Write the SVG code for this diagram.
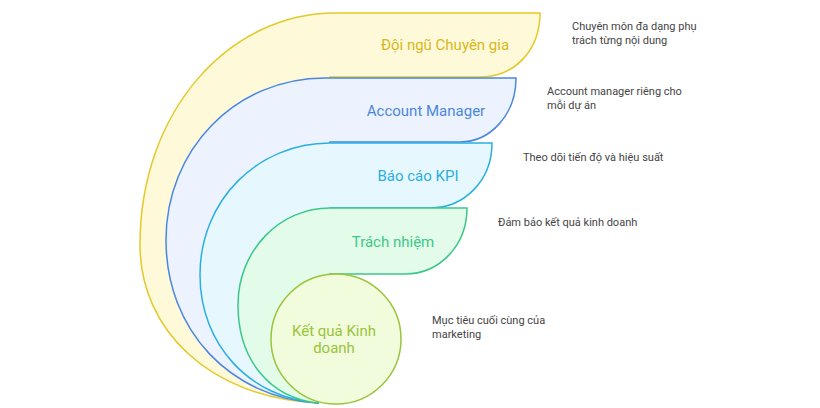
<svg xmlns="http://www.w3.org/2000/svg" width="820" height="408" viewBox="0 0 820 408">
<style>
.l{font-family:Roboto,"Liberation Sans",sans-serif;font-size:15px;text-anchor:middle}
.d{font-family:Roboto,"Liberation Sans",sans-serif;font-size:11px;fill:#444}
path,circle{stroke-width:1.5}
</style>
<rect width="820" height="408" fill="#fff"/>
<g id="n1"><path d="M318,403 C210,398 140,330 140,245 C140,110 230,13 335,13 L540,13 C540,50 515,77 480,77 L330,77 Z" fill="#fef9d8" stroke="#e3c92a"/>
<text class="l" x="445" y="50" fill="#d6b81c">Đội ngũ Chuyên gia</text></g>
<g id="n2"><path d="M318,403 C230,398 166,330 166,240 C166,150 235,78 325,78 L516,78 C516,115 490,142 460,142 L330,142 Z" fill="#edf3fe" stroke="#4a86e0"/>
<text class="l" x="426" y="116" fill="#4a86e0">Account Manager</text></g>
<g id="n3"><path d="M318,403 C250,398 200,345 200,275 C200,200 258,143 330,143 L492,143 C492,180 465,208 430,208 L330,208 Z" fill="#e6f8fe" stroke="#2aaee0"/>
<text class="l" x="418" y="181" fill="#2aaee0">Báo cáo KPI</text></g>
<g id="n4"><path d="M318,403 C270,398 238,360 238,305 C238,250 280,208 330,208 L467,208 C467,245 440,274 405,274 L330,274 Z" fill="#e3fbe9" stroke="#3cc88a"/>
<text class="l" x="393" y="247" fill="#3cc88a">Trách nhiệm</text></g>
<g id="n5"><circle cx="336" cy="339" r="65" fill="#f1fcdc" stroke="#9ac43a"/>
<text class="l" x="334" y="336" fill="#9ac43a">Kết quả Kinh</text>
<text class="l" x="334" y="353" fill="#9ac43a">doanh</text></g>
<g id="connectors"></g>
<g id="desc">
<text class="d" x="572" y="30">Chuyên môn đa dạng phụ</text>
<text class="d" x="572" y="44">trách từng nội dung</text>
<text class="d" x="547" y="95">Account manager riêng cho</text>
<text class="d" x="547" y="109">mỗi dự án</text>
<text class="d" x="523" y="161">Theo dõi tiến độ và hiệu suất</text>
<text class="d" x="498" y="226">Đảm bảo kết quả kinh doanh</text>
<text class="d" x="432" y="324">Mục tiêu cuối cùng của</text>
<text class="d" x="432" y="338">marketing</text>
</g>
</svg>
